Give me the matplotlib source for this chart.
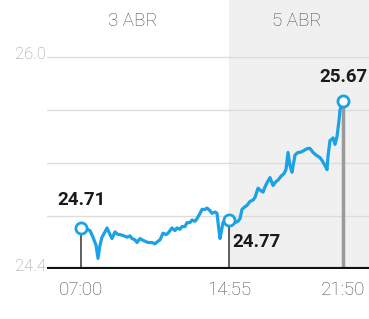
import matplotlib
matplotlib.use("Agg")
import matplotlib.pyplot as plt

# ---- data ----
t = [0, 3, 6, 9, 12, 15, 17, 19, 21, 24, 26, 29, 31, 34, 37, 39, 43, 46, 49, 51,
     54, 56, 59, 61, 64, 67, 71, 74, 77, 79, 82, 85, 87, 91, 94, 96, 99, 101, 104, 106,
     109, 111, 114, 116, 119, 121, 124, 126, 129, 131, 134, 136, 138, 139, 141, 142, 145, 148, 151, 154,
     157, 159, 161, 164, 166, 169, 172, 174, 177, 180, 182, 184, 186, 189, 192, 195, 197, 200, 203, 205,
     207, 209, 211, 214, 217, 219, 222, 224, 227, 229, 232, 235, 237, 239, 241, 244, 246, 247, 249, 251,
     252, 254, 256, 258, 259, 262]
values = [24.71, 24.72, 24.70, 24.69, 24.64, 24.58, 24.48, 24.58, 24.64, 24.68,
          24.71, 24.66, 24.63, 24.68, 24.66, 24.66, 24.65, 24.64, 24.65, 24.63,
          24.62, 24.60, 24.63, 24.62, 24.61, 24.60, 24.60, 24.59, 24.61, 24.62,
          24.67, 24.66, 24.67, 24.71, 24.69, 24.71, 24.70, 24.72, 24.72, 24.75,
          24.75, 24.77, 24.76, 24.78, 24.82, 24.85, 24.85, 24.86, 24.84, 24.82,
          24.83, 24.82, 24.69, 24.63, 24.71, 24.75, 24.78, 24.77, 24.76, 24.75,
          24.76, 24.78, 24.85, 24.87, 24.88, 24.91, 24.92, 24.94, 25.01, 24.99,
          24.98, 25.02, 25.05, 25.09, 25.03, 25.06, 25.07, 25.10, 25.12, 25.15,
          25.28, 25.18, 25.13, 25.26, 25.28, 25.28, 25.29, 25.30, 25.31, 25.31,
          25.28, 25.26, 25.25, 25.24, 25.22, 25.18, 25.15, 25.25, 25.37, 25.38,
          25.39, 25.34, 25.40, 25.52, 25.60, 25.67]

tick_pos = [0, 148, 262]
tick_labels = ["07:00", "14:55", "21:50"]
marker_pos = [0, 148, 262]
marker_vals = [24.71, 24.77, 25.67]
marker_texts = ["24.71", "24.77", "25.67"]
day_labels = ["3 ABR", "5 ABR"]
day_label_pos = [52, 216]
day_start = 148
grid_vals = [24.8, 25.2, 25.6, 26.0]
ylabels_vals = [26.0, 24.4]

BLUE = "#1ba1e6"

fig = plt.figure(figsize=(3.69, 3.19), dpi=100)
ax = fig.add_axes([47/369, 50/319, 322/369, 269/319])
ax.set_xlim(-34, 288)
ax.set_ylim(24.4, 26.43)
ax.axis("off")

# shaded second day
ax.axvspan(day_start, 288, color="#f0f0f0", zorder=0, lw=0)

# grid
for g in grid_vals:
    ax.axhline(g, color="#dcdcdc", lw=1.0, zorder=1)
ax.axhline(24.4, color="#111111", lw=3, zorder=5)

# y labels
for v in ylabels_vals:
    ax.text(-35, v + 0.02, f"{v:.1f}", ha="right", va="center", color="#999999",
            fontsize=12, family="Roboto", fontweight="light", clip_on=False)

# vertical stems
ax.vlines(marker_pos[:2], 24.4, marker_vals[:2], color="#444444", lw=1.2, zorder=3)
ax.vlines(marker_pos[2], 24.4, marker_vals[2], color="#9a9a9a", lw=2.5, zorder=3)

# line
ax.plot(t, values, color=BLUE, lw=2.3, zorder=4, solid_joinstyle="round")
ax.plot(marker_pos, marker_vals, ls="none", marker="o", ms=8, mfc="white",
        mec=BLUE, mew=2, zorder=6)

# marker labels
ax.text(marker_pos[0], 24.92, marker_texts[0], ha="center", va="center",
        fontsize=13.5, fontweight="bold", family="Roboto", color="#1a1a1a")
ax.text(marker_pos[1] + 3, 24.60, marker_texts[1], ha="left", va="center",
        fontsize=13.5, fontweight="bold", family="Roboto", color="#1a1a1a")
ax.text(marker_pos[2], 25.85, marker_texts[2], ha="center", va="center",
        fontsize=13.5, fontweight="bold", family="Roboto", color="#1a1a1a", clip_on=False)

# day labels
for lab, p in zip(day_labels, day_label_pos):
    ax.text(p, 26.27, lab, ha="center", va="center", fontsize=13.5,
            family="Roboto", fontweight="light", color="#4a4a4a")

# x tick labels
for p, lab in zip(tick_pos, tick_labels):
    ax.text(p, 24.24, lab, ha="center", va="center", fontsize=13.5,
            family="Roboto", fontweight="light", color="#4a4a4a", clip_on=False)

fig.savefig("out.png", dpi=100, facecolor="white")
